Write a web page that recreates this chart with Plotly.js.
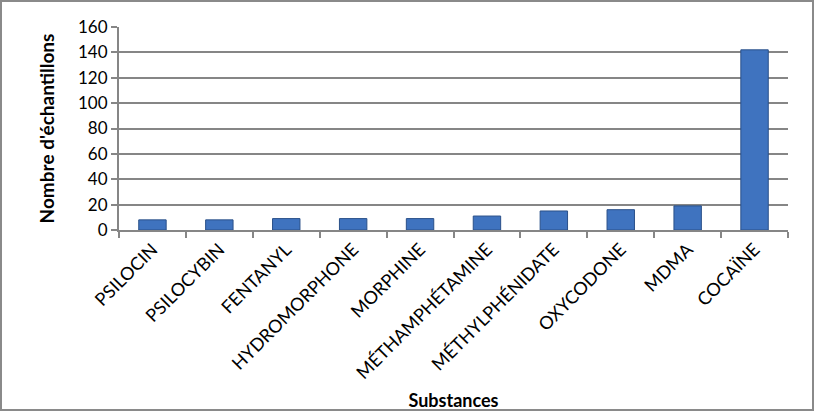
<!DOCTYPE html>
<html><head><meta charset="utf-8">
<script src="https://cdn.plot.ly/plotly-3.0.1.min.js"></script>
<style>
html,body{margin:0;padding:0;background:#fff;}
#frame{position:absolute;left:0;top:0;width:810px;height:407px;border:2px solid #8a8a8a;}
#chart{position:absolute;left:0;top:0;width:814px;height:411px;}
</style></head>
<body>
<div id="chart"></div>
<div id="frame"></div>
<script>
const categories = ["PSILOCIN","PSILOCYBIN","FENTANYL","HYDROMORPHONE","MORPHINE","MÉTHAMPHÉTAMINE","MÉTHYLPHÉNIDATE","OXYCODONE","MDMA","COCAÏNE"];
const counts = [8, 8, 9, 9, 9, 11, 15, 16, 19, 142];
const yTicks = [0, 20, 40, 60, 80, 100, 120, 140, 160];

const font = "Lato, 'Open Sans', sans-serif";
const trace = {
  type: "bar",
  x: categories,
  y: counts,
  width: 0.41,
  marker: {color: "#3f73bf", line: {color: "#2a5089", width: 1}},
  hoverinfo: "skip"
};
const layout = {
  width: 814, height: 411,
  margin: {l: 119, r: 26, t: 27, b: 181},
  paper_bgcolor: "#fff", plot_bgcolor: "#fff",
  showlegend: false,
  font: {family: font, size: 16, color: "#000"},
  xaxis: {
    type: "category",
    tickangle: -45,
    ticks: "outside", tickson: "boundaries", ticklen: 6, tickwidth: 2, tickcolor: "#868686",
    showline: true, linecolor: "#868686", linewidth: 2,
    showgrid: false, zeroline: false,
    tickfont: {family: font, size: 18},
    title: {text: "<b>Substances</b>", font: {family: font, size: 18}, standoff: 15},
    automargin: false
  },
  yaxis: {
    range: [0, 160],
    tickvals: yTicks,
    ticks: "outside", ticklen: 6, tickwidth: 2, tickcolor: "#868686",
    showline: true, linecolor: "#868686", linewidth: 2,
    showgrid: true, gridcolor: "#868686", gridwidth: 2,
    zeroline: false,
    tickfont: {family: font, size: 17},
    title: {text: "<b>Nombre d'échantillons</b>", font: {family: font, size: 19}, standoff: 18},
    automargin: false
  },
  bargap: 0.59
};
Plotly.newPlot("chart", [trace], layout, {staticPlot: true, displayModeBar: false});
</script>
</body></html>
